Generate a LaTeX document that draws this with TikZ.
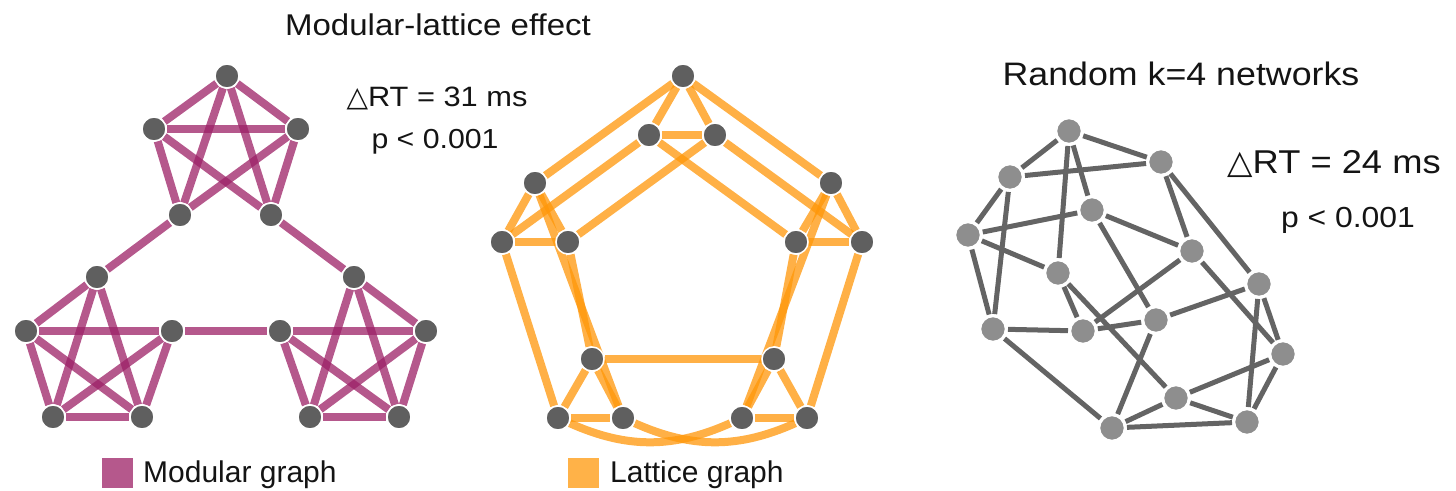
\documentclass[tikz,border=0pt]{standalone}
\usepackage{fontspec}
\setmainfont{Liberation Sans}
\newfontfamily\wfont{Liberation Sans}[FakeStretch=1.1]
\newfontfamily\dvs{DejaVu Sans}
\pgfdeclarelayer{bg}
\pgfsetlayers{bg,main}
\definecolor{modc}{RGB}{156,32,102}
\definecolor{modpatch}{RGB}{181,88,140}
\definecolor{latc}{RGB}{255,150,8}
\definecolor{latpatch}{RGB}{255,178,72}
\definecolor{ngray}{RGB}{95,95,95}
\definecolor{rgray}{RGB}{142,142,142}
\definecolor{rline}{RGB}{100,100,100}
\definecolor{txt}{RGB}{20,20,20}
\tikzset{
  mnode/.style={circle,fill=ngray,draw=white,line width=1.5pt,minimum size=24pt,inner sep=0pt},
  rnode/.style={circle,fill=rgray,draw=white,line width=1.5pt,minimum size=25pt,inner sep=0pt,outer sep=2.5pt},
  medge/.style={draw=modc,draw opacity=0.75,line width=8pt},
  ledge/.style={draw=latc,draw opacity=0.75,line width=8pt},
  redge/.style={draw=rline,line width=5pt},
  lbl/.style={text=txt,inner sep=0pt,anchor=base},
  patch/.style={inner sep=0pt,minimum width=31pt,minimum height=30pt,draw=none}
}
\begin{document}
\begin{tikzpicture}[x=1pt,y=-1pt]
\useasboundingbox (0,0) rectangle (1456,490);
% ---------- Modular graph ----------
\node[mnode] (T0) at (227,76) {};
\node[mnode] (T1) at (154,129) {};
\node[mnode] (T2) at (298,129) {};
\node[mnode] (T3) at (180,215) {};
\node[mnode] (T4) at (271,215) {};
\node[mnode] (L0) at (97,277) {};
\node[mnode] (L1) at (26,331) {};
\node[mnode] (L2) at (172,331) {};
\node[mnode] (L3) at (53,417) {};
\node[mnode] (L4) at (142,417) {};
\node[mnode] (R0) at (354,277) {};
\node[mnode] (R1) at (280,331) {};
\node[mnode] (R2) at (426,331) {};
\node[mnode] (R3) at (310,417) {};
\node[mnode] (R4) at (399,417) {};
\begin{pgfonlayer}{bg}
\foreach \a/\b in {T0/T1,T0/T2,T1/T2,T0/T3,T0/T4,T1/T3,T1/T4,T2/T3,T2/T4,
  L0/L1,L0/L3,L0/L4,L1/L2,L1/L3,L1/L4,L2/L3,L2/L4,L3/L4,
  R0/R2,R0/R3,R0/R4,R1/R2,R1/R3,R1/R4,R2/R3,R2/R4,R3/R4,
  T3/L0,T4/R0,L2/R1}
  \draw[medge] (\a) -- (\b);
\end{pgfonlayer}
% ---------- Lattice graph ----------
\node[mnode] (A) at (683,76) {};
\node[mnode] (B1) at (649,135) {};
\node[mnode] (B2) at (715,135) {};
\node[mnode] (C) at (535,183) {};
\node[mnode] (D) at (831,183) {};
\node[mnode] (E1) at (502,242) {};
\node[mnode] (E2) at (568,242) {};
\node[mnode] (F1) at (796,242) {};
\node[mnode] (F2) at (862,242) {};
\node[mnode] (G1) at (592,359) {};
\node[mnode] (G2) at (774,359) {};
\node[mnode] (H1) at (558,418) {};
\node[mnode] (H2) at (623,418) {};
\node[mnode] (I1) at (742,418) {};
\node[mnode] (I2) at (807,418) {};
\begin{pgfonlayer}{bg}
\foreach \a/\b in {A/B1,A/B2,A/C,A/D,B1/B2,B1/E1,B1/F1,B2/E2,B2/F2,
  C/E1,C/E2,C/H2,D/F1,D/F2,D/I1,E1/E2,E1/H1,E2/G1,F1/F2,F1/G2,F2/I2,
  G1/H1,G1/H2,G1/G2,G2/I1,G2/I2,H1/H2,I1/I2}
  \draw[ledge] (\a) -- (\b);
\draw[ledge] (H1) to[bend right=24] (I1);
\draw[ledge] (H2) to[bend right=24] (I2);
\end{pgfonlayer}
% ---------- Random graph ----------
\node[rnode] (r1) at (1069,131) {};
\node[rnode] (r2) at (1161,162) {};
\node[rnode] (r3) at (1010,177) {};
\node[rnode] (r4) at (1092,210) {};
\node[rnode] (r5) at (968,235) {};
\node[rnode] (r6) at (1192,251) {};
\node[rnode] (r7) at (1058,273) {};
\node[rnode] (r8) at (1259,284) {};
\node[rnode] (r9) at (993,329) {};
\node[rnode] (r10) at (1083,331) {};
\node[rnode] (r11) at (1156,320) {};
\node[rnode] (r12) at (1283,354) {};
\node[rnode] (r13) at (1176,398) {};
\node[rnode] (r14) at (1112,428) {};
\node[rnode] (r15) at (1247,422) {};
\begin{pgfonlayer}{bg}
\foreach \a/\b in {r1/r2,r1/r3,r1/r4,r1/r7,r2/r3,r2/r6,r2/r8,r3/r5,r3/r9,
  r4/r5,r4/r6,r4/r11,r5/r7,r5/r9,r6/r10,r6/r12,r7/r10,r7/r13,r8/r11,r8/r12,
  r8/r15,r9/r10,r9/r14,r10/r11,r11/r14,r12/r13,r12/r15,r13/r14,r13/r15,r14/r15}
  \draw[redge] (\a) -- (\b);
\end{pgfonlayer}
% ---------- Texts ----------
\node[lbl,font=\wfont\fontsize{30}{34}\selectfont] (title) at (438,35) {Modular-lattice effect};
\node[lbl,font=\wfont\fontsize{28}{32}\selectfont] (drt1) at (437,106) {{\dvs △}RT = 31 ms};
\node[lbl,font=\wfont\fontsize{27.5}{32}\selectfont] (p1) at (435,148) {p < 0.001};
\node[lbl,font=\wfont\fontsize{32.5}{36}\selectfont] (title2) at (1181,85) {Random k=4 networks};
\node[lbl,font=\wfont\fontsize{33}{36}\selectfont] (drt2) at (1334,173) {{\dvs △}RT = 24 ms};
\node[lbl,font=\wfont\fontsize{29}{33}\selectfont] (p2) at (1348,227) {p < 0.001};
% ---------- Legend ----------
\node[patch,fill=modpatch,anchor=north west] (mp) at (102,458) {};
\node[lbl,anchor=base west,font=\fontsize{30}{34}\selectfont] (ml) at (143,482) {Modular graph};
\node[patch,fill=latpatch,anchor=north west] (lp) at (568,458) {};
\node[lbl,anchor=base west,font=\fontsize{30}{34}\selectfont] (ll) at (610,482) {Lattice graph};
\end{tikzpicture}
\end{document}
